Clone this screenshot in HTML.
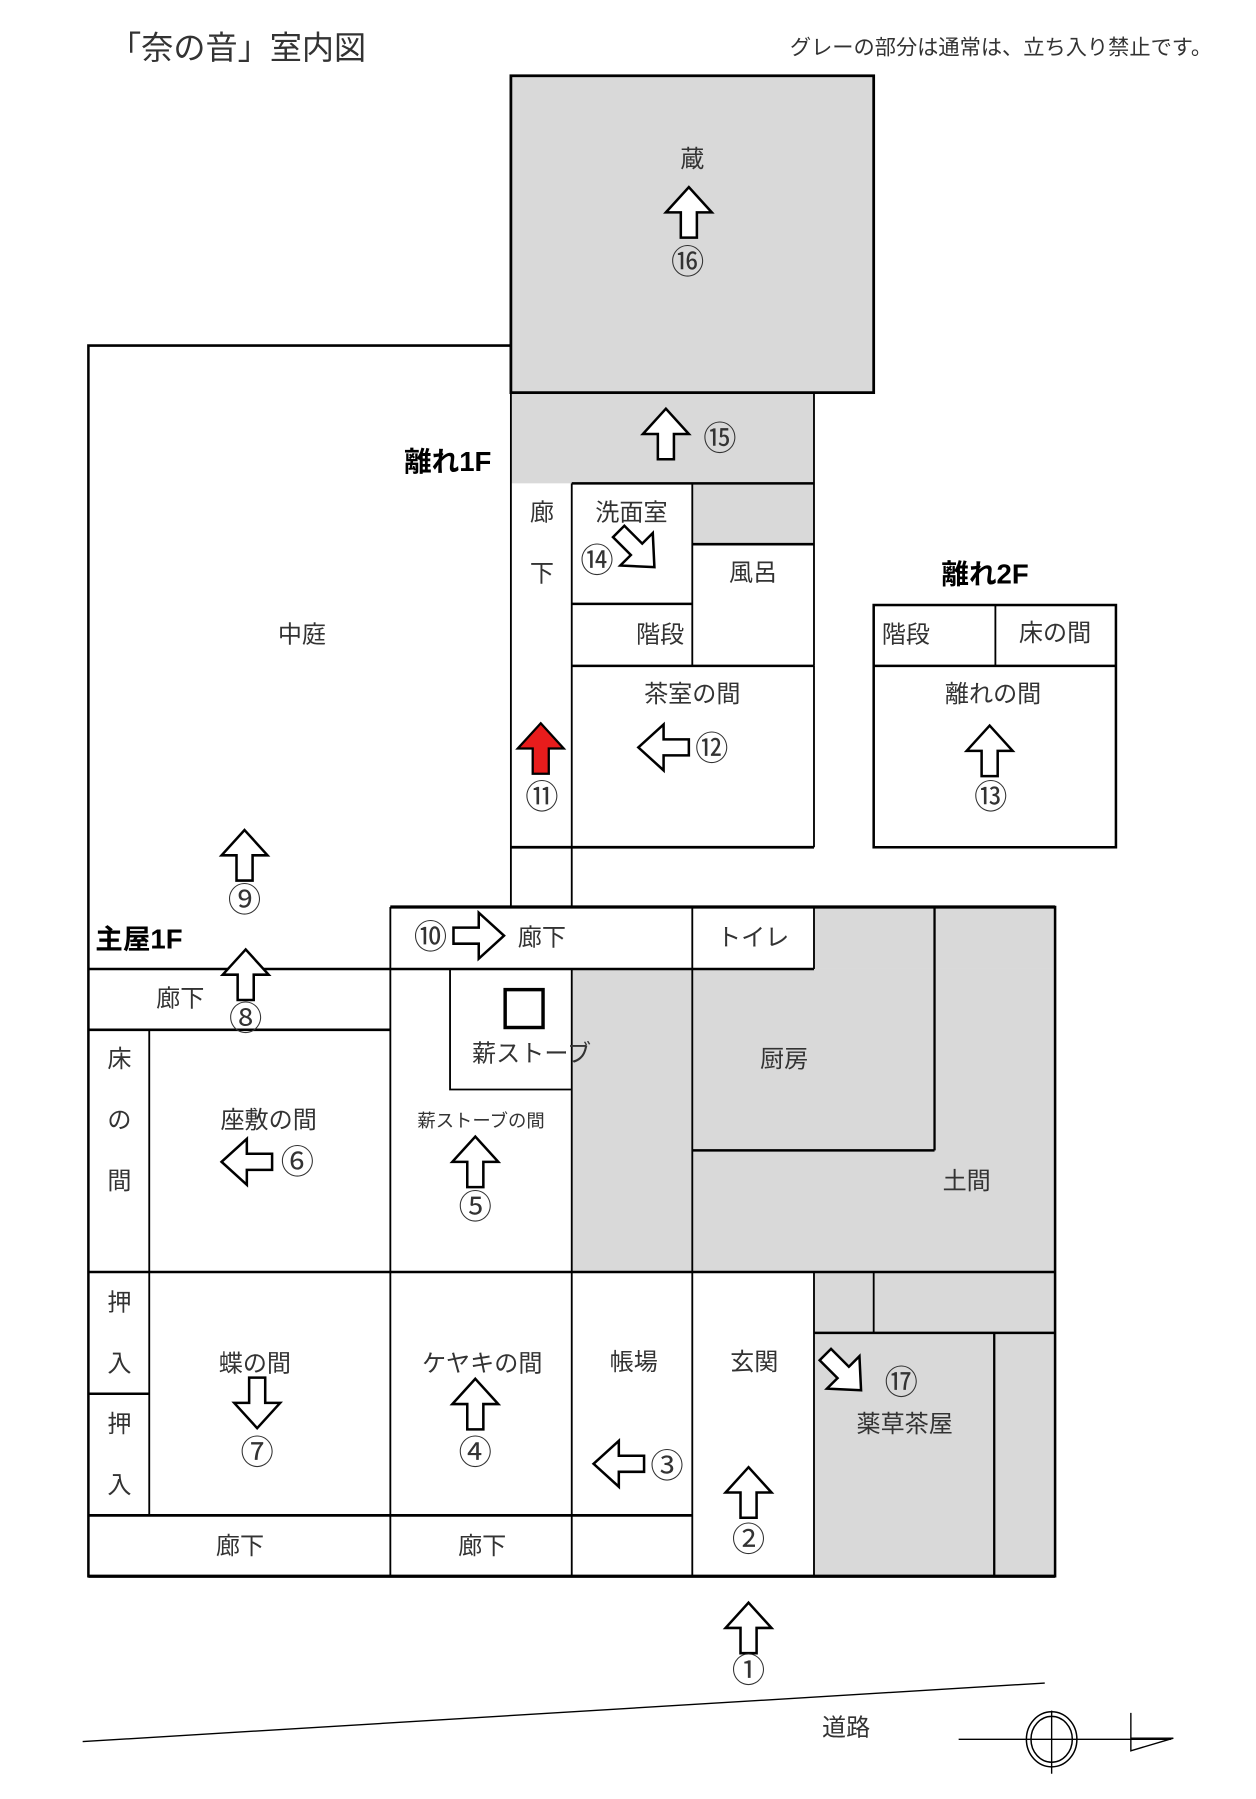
<!DOCTYPE html>
<html><head><meta charset="utf-8"><style>
html,body{margin:0;padding:0;background:#fff;}
svg{display:block;}
text{font-family:"Liberation Sans","Noto Sans CJK JP",sans-serif;fill:#333;}
</style></head><body>
<svg width="1256" height="1799" viewBox="0 0 1094 1567" preserveAspectRatio="none" xmlns="http://www.w3.org/2000/svg">
<defs>
<path id="ar" d="M0,0 L20,22 L7,22 L7,44 L-7,44 L-7,22 L-20,22 Z" fill="#fff" stroke="#000" stroke-width="2.2" stroke-linejoin="miter"/>
</defs>
<g fill="#d9d9d9">
<rect x="445" y="66" width="316" height="276"/>
<rect x="445" y="342" width="264" height="79"/>
<rect x="603" y="421" width="106" height="53"/>
<rect x="498" y="844" width="105" height="264"/>
<rect x="603" y="844" width="316" height="264"/>
<rect x="709" y="790" width="210" height="54"/>
<rect x="709" y="1108" width="210" height="265"/>
</g>
<g stroke="#000" fill="none" stroke-width="1.6">
<rect x="445" y="66" width="316" height="276" stroke-width="2.4"/>
<line x1="709" y1="342" x2="709" y2="580"/>
<line x1="445" y1="342" x2="445" y2="790"/>
<line x1="498" y1="421" x2="709" y2="421" stroke-width="2.2"/>
<line x1="498" y1="421" x2="498" y2="790"/>
<line x1="603" y1="421" x2="603" y2="580"/>
<line x1="603" y1="474" x2="709" y2="474" stroke-width="2.2"/>
<line x1="498" y1="526" x2="603" y2="526" stroke-width="2.2"/>
<line x1="498" y1="580" x2="709" y2="580" stroke-width="2.2"/>
<line x1="709" y1="580" x2="709" y2="738"/>
<line x1="445" y1="738" x2="709" y2="738" stroke-width="2.4"/>
<rect x="761" y="527" width="211" height="211" stroke-width="2.2"/>
<line x1="867" y1="527" x2="867" y2="580"/>
<line x1="761" y1="580" x2="972" y2="580" stroke-width="2.2"/>
<polyline points="445,301 77,301 77,1373 919,1373 919,790 340,790" stroke-width="2.2"/>
<line x1="77" y1="1373" x2="919" y2="1373" stroke-width="2.8"/>
<line x1="340" y1="790" x2="919" y2="790" stroke-width="2.8"/>
<line x1="340" y1="790" x2="340" y2="1373"/>
<line x1="77" y1="844" x2="709" y2="844" stroke-width="2.2"/>
<line x1="603" y1="790" x2="603" y2="1373"/>
<line x1="709" y1="790" x2="709" y2="844"/>
<line x1="814" y1="790" x2="814" y2="1002" stroke-width="2"/>
<line x1="603" y1="1002" x2="814" y2="1002" stroke-width="2.2"/>
<polyline points="392,844 392,949 498,949"/>
<rect x="440" y="862" width="33" height="33" stroke-width="3"/>
<line x1="498" y1="844" x2="498" y2="1373"/>
<line x1="77" y1="897" x2="340" y2="897" stroke-width="2.2"/>
<line x1="130" y1="897" x2="130" y2="1320"/>
<line x1="77" y1="1108" x2="919" y2="1108" stroke-width="2.2"/>
<line x1="77" y1="1214" x2="130" y2="1214" stroke-width="2.2"/>
<line x1="77" y1="1320" x2="603" y2="1320" stroke-width="2.4"/>
<line x1="709" y1="1108" x2="709" y2="1373"/>
<line x1="761" y1="1108" x2="761" y2="1161"/>
<line x1="709" y1="1161" x2="919" y2="1161" stroke-width="2.2"/>
<line x1="866" y1="1161" x2="866" y2="1373" stroke-width="2"/>
<line x1="72" y1="1517" x2="910" y2="1466" stroke-width="1.2"/>
<line x1="835" y1="1515" x2="1020" y2="1515" stroke-width="1.2"/>
<line x1="916" y1="1490" x2="916" y2="1545" stroke-width="1.2"/>
<ellipse cx="916" cy="1515" rx="22" ry="24" stroke-width="1.3"/>
<ellipse cx="916" cy="1515" rx="18" ry="20" stroke-width="1.3"/>
<polyline points="985,1492 985,1525 1022,1514 985,1514" stroke-width="1.2"/>
</g>
<use href="#ar" transform="translate(600,163)"/>
<use href="#ar" transform="translate(580,356)"/>
<use href="#ar" transform="translate(570,494) rotate(135)"/>
<path d="M0,0 L20,22 L7,22 L7,44 L-7,44 L-7,22 L-20,22 Z" transform="translate(471,630)" fill="#e81c1c" stroke="#000" stroke-width="2"/>
<use href="#ar" transform="translate(556,651) rotate(-90)"/>
<use href="#ar" transform="translate(862,632)"/>
<use href="#ar" transform="translate(213,723)"/>
<use href="#ar" transform="translate(439,815) rotate(90)"/>
<use href="#ar" transform="translate(214,827)"/>
<use href="#ar" transform="translate(193,1012) rotate(-90)"/>
<use href="#ar" transform="translate(414,990)"/>
<use href="#ar" transform="translate(224,1244) rotate(180)"/>
<use href="#ar" transform="translate(414,1201)"/>
<use href="#ar" transform="translate(517,1275) rotate(-90)"/>
<use href="#ar" transform="translate(652,1278)"/>
<use href="#ar" transform="translate(652,1396)"/>
<use href="#ar" transform="translate(750,1211) rotate(135)"/>
<g font-size="29" text-anchor="middle" dominant-baseline="central">
<text x="599" y="229">⑯</text>
<text x="627" y="383">⑮</text>
<text x="520" y="489">⑭</text>
<text x="472" y="695">⑪</text>
<text x="620" y="653">⑫</text>
<text x="863" y="695">⑬</text>
<text x="213" y="785">⑨</text>
<text x="375" y="817">⑩</text>
<text x="214" y="888">⑧</text>
<text x="259" y="1013">⑥</text>
<text x="414" y="1052">⑤</text>
<text x="224" y="1266">⑦</text>
<text x="414" y="1266">④</text>
<text x="581" y="1278">③</text>
<text x="652" y="1342">②</text>
<text x="652" y="1456">①</text>
<text x="785" y="1205">⑰</text>
</g>
<g font-size="21" text-anchor="middle" dominant-baseline="central">
<text x="603" y="139">蔵</text>
<text x="263" y="553">中庭</text>
<text x="472" y="447">廊</text>
<text x="472" y="500">下</text>
<text x="550" y="447">洗面室</text>
<text x="656" y="499">風呂</text>
<text x="575" y="553">階段</text>
<text x="603" y="605">茶室の間</text>
<text x="789" y="553">階段</text>
<text x="919" y="552">床の間</text>
<text x="865" y="605">離れの間</text>
<text x="472" y="817">廊下</text>
<text x="656" y="817">トイレ</text>
<text x="683" y="923">厨房</text>
<text x="842" y="1029">土間</text>
<text x="157" y="870">廊下</text>
<text x="104" y="923">床</text>
<text x="104" y="976">の</text>
<text x="104" y="1029">間</text>
<text x="234" y="976">座敷の間</text>
<text x="463" y="918">薪ストーブ</text>
<text x="419" y="976" font-size="16">薪ストーブの間</text>
<text x="104" y="1135">押</text>
<text x="104" y="1188">入</text>
<text x="104" y="1241">押</text>
<text x="104" y="1294">入</text>
<text x="222" y="1188">蝶の間</text>
<text x="420" y="1188">ケヤキの間</text>
<text x="552" y="1187">帳場</text>
<text x="657" y="1187">玄関</text>
<text x="788" y="1241">薬草茶屋</text>
<text x="209" y="1347">廊下</text>
<text x="420" y="1347">廊下</text>
<text x="737" y="1505">道路</text>
</g>
<g font-weight="bold" font-size="24" dominant-baseline="central">
<text x="352" y="402" style="fill:#000">離れ1F</text>
<text x="820" y="500" style="fill:#000">離れ2F</text>
<text x="83" y="818" style="fill:#000">主屋1F</text>
</g>
<text x="95" y="42" font-size="28" dominant-baseline="central">「奈の音」室内図</text>
<text x="688" y="42" font-size="18.5" dominant-baseline="central">グレーの部分は通常は、立ち入り禁止です。</text>
</svg>
</body></html>
